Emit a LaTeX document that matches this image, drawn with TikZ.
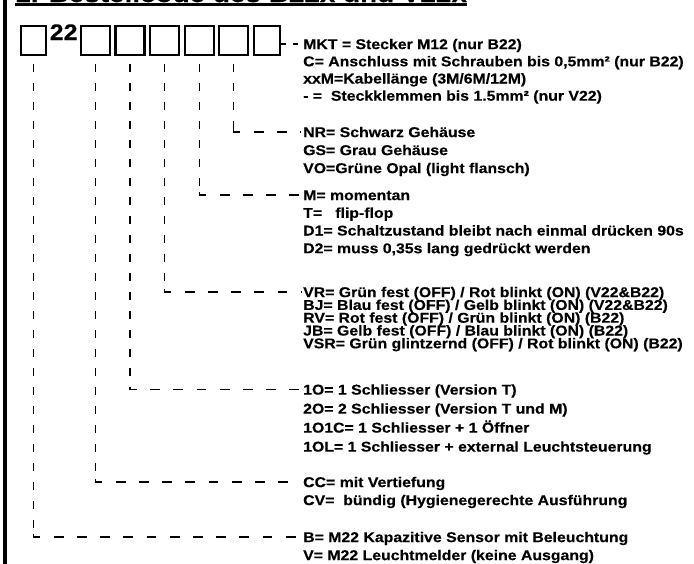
\documentclass[tikz,border=0pt]{standalone}
\usepackage{fontspec}
\setmainfont{Liberation Sans}[FakeStretch=1.115, BoldFeatures={FakeBold=0.35}]
\newcommand{\rowtxt}[1]{\hbox{#1}}
\newcommand{\tightlines}{\lineskiplimit=-100pt\relax}
\begin{document}
\begin{tikzpicture}[x=1pt,y=-1pt,
  box/.style={draw, line width=2.2pt, minimum height=29.5pt, inner sep=0pt},
  vdash/.style={line width=1.1pt, dash pattern=on 8pt off 11pt},
  hdash/.style={line width=1.1pt, dash pattern=on 9.8pt off 13.4pt},
  txt/.style={anchor=base west, inner sep=0pt, font=\fontsize{14.2}{#1}\selectfont\bfseries},
]
\useasboundingbox (0,0) rectangle (694,563);
\fill[white] (0,0) rectangle (694,563);
\clip (0,0) rectangle (694,563);

% left bar
\draw[line width=4.2pt] (4.7,-5) -- (4.7,570);

% title (mostly cut off at the top)
\node[anchor=base west, inner sep=0pt, font=\fontsize{25}{25}\selectfont\bfseries] (title) at (15,2) {1. Bestellcode des B22x und V22x};
\draw[line width=2.6pt] ([yshift=-2.2pt]title.base west) -- ([yshift=-2.2pt]title.base east);

% code boxes
\node[box, minimum width=25pt] (b1) at (33.5,40.5) {};
\node[anchor=base west, inner sep=0pt, font=\fontsize{22.5}{22.5}\selectfont\bfseries] (n22) at (49.5,40) {22};
\node[box, minimum width=29pt] (b2) at (95.5,40.5) {};
\node[box, minimum width=29pt] (b3) at (130,40.5) {};
\node[box, minimum width=29pt] (b4) at (164.5,40.5) {};
\node[box, minimum width=29pt] (b5) at (199.5,40.5) {};
\node[box, minimum width=29pt] (b6) at (233.5,40.5) {};
\node[box, minimum width=26pt] (b7) at (267,40.5) {};

% anchors of the text groups (first line centres)
\coordinate (a1) at (301,44);
\coordinate (a2) at (301,132);
\coordinate (a3) at (301,195);
\coordinate (a4) at (301,292);
\coordinate (a5) at (301,389.5);
\coordinate (a6) at (301,482);
\coordinate (a7) at (301,537);

% text groups
\node[txt=17.2] (t1) at ([xshift=2pt,yshift=-5.1pt]a1) {\vtop{\tightlines
 \rowtxt{MKT = Stecker M12 (nur B22)}
 \rowtxt{C= Anschluss mit Schrauben bis 0,5mm² (nur B22)}
 \rowtxt{xxM=Kabellänge (3M/6M/12M)}
 \rowtxt{- = \ Steckklemmen bis 1.5mm² (nur V22)}}};
\node[txt=18] (t2) at ([xshift=2pt,yshift=-5.1pt]a2) {\vtop{\tightlines
 \rowtxt{NR= Schwarz Gehäuse}
 \rowtxt{GS= Grau Gehäuse}
 \rowtxt{VO=Grüne Opal (light flansch)}}};
\node[txt=17.7] (t3) at ([xshift=2pt,yshift=-5.1pt]a3) {\vtop{\tightlines
 \rowtxt{M= momentan}
 \rowtxt{T=\ \ \ flip-flop}
 \rowtxt{D1= Schaltzustand bleibt nach einmal drücken 90s}
 \rowtxt{D2= muss 0,35s lang gedrückt werden}}};
\node[txt=12.8] (t4) at ([xshift=2pt,yshift=-5.1pt]a4) {\vtop{\tightlines
 \rowtxt{VR= Grün fest (OFF) / Rot blinkt (ON) (V22\&B22)}
 \rowtxt{BJ= Blau fest (OFF) / Gelb blinkt (ON) (V22\&B22)}
 \rowtxt{RV= Rot fest (OFF) / Grün blinkt (ON) (B22)}
 \rowtxt{JB= Gelb fest (OFF) / Blau blinkt (ON) (B22)}
 \rowtxt{VSR= Grün glintzernd (OFF) / Rot blinkt (ON) (B22)}}};
\node[txt=19] (t5) at ([xshift=2pt,yshift=-5.1pt]a5) {\vtop{\tightlines
 \rowtxt{1O= 1 Schliesser (Version T)}
 \rowtxt{2O= 2 Schliesser (Version T und M)}
 \rowtxt{1O1C= 1 Schliesser + 1 Öffner}
 \rowtxt{1OL= 1 Schliesser + external Leuchtsteuerung}}};
\node[txt=18] (t6) at ([xshift=2pt,yshift=-5.1pt]a6) {\vtop{\tightlines
 \rowtxt{CC= mit Vertiefung}
 \rowtxt{CV= \ bündig (Hygienegerechte Ausführung}}};
\node[txt=18] (t7) at ([xshift=2pt,yshift=-5.1pt]a7) {\vtop{\tightlines
 \rowtxt{B= M22 Kapazitive Sensor mit Beleuchtung}
 \rowtxt{V= M22 Leuchtmelder (keine Ausgang)}}};

% connector of the last box
\draw[line width=1.1pt, dash pattern=on 4.5pt off 7.5pt] (b7.east |- a1) -- (a1);

% corners
\coordinate (k2) at (b6.south |- a2);
\coordinate (k3) at (b5.south |- a3);
\coordinate (k4) at (b4.south |- a4);
\coordinate (k5) at (b3.south |- a5);
\coordinate (k6) at (b2.south |- a6);
\coordinate (k7) at (b1.south |- a7);

\foreach \b/\k/\a in {b6/k2/a2, b5/k3/a3, b4/k4/a4, b3/k5/a5, b2/k6/a6, b1/k7/a7}{
  \draw[vdash] ([yshift=-8pt]\b.south) -- ([yshift=3pt]\k);
  \draw[hdash] ([yshift=3pt]\k) -- (\k) -- (\a);
}
\end{tikzpicture}
\end{document}
